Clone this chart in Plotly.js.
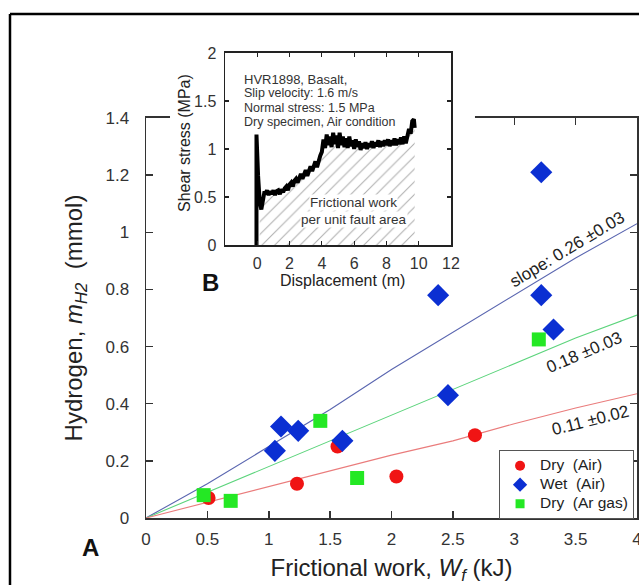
<!DOCTYPE html>
<html><head><meta charset="utf-8">
<script src="https://cdn.plot.ly/plotly-3.0.1.min.js"></script>
<style>html,body{margin:0;padding:0;background:#fff}#chart{width:639px;height:585px}</style>
</head><body><div id="chart"></div>
<script>
// ---------- Panel A: hydrogen vs frictional work ----------
const seriesNames = ['Dry\u00a0 (Air)', 'Wet\u00a0 (Air)', 'Dry\u00a0 (Ar gas)'];
const dryAirW = [0.51, 1.23, 1.56, 2.04, 2.68];
const dryAirH = [0.07, 0.12, 0.25, 0.145, 0.29];
const wetAirW = [1.05, 1.10, 1.24, 1.60, 2.38, 2.46, 3.22, 3.22, 3.32];
const wetAirH = [0.235, 0.32, 0.305, 0.27, 0.78, 0.43, 1.21, 0.78, 0.66];
const dryArW = [0.47, 0.69, 1.42, 1.72, 3.20];
const dryArH = [0.08, 0.06, 0.34, 0.14, 0.625];
// fitted lines
const fitW = [0, 0.5, 1, 1.5, 2, 2.5, 3, 3.5, 4];
const fitWetH = [0, 0.12, 0.25, 0.38, 0.52, 0.65, 0.78, 0.91, 1.03];
const fitDryArH = [0, 0.09, 0.18, 0.27, 0.36, 0.45, 0.54, 0.63, 0.71];
const fitDryAirH = [0, 0.055, 0.11, 0.165, 0.22, 0.27, 0.33, 0.385, 0.435];
const slopeLabels = ['slope: 0.26 \u00b10.03', '0.18 \u00b10.03', '0.11 \u00b10.02'];

// ---------- Panel B: shear stress vs displacement ----------
const dispM = [-0.05, -0.05, 0.05, 0.15, 0.25, 0.35, 0.45,
  0.5,0.6,0.7,0.8,0.9,1.0,1.1,1.2,1.3,1.4,1.5,1.6,1.7,1.8,1.9,2.0,2.1,2.2,2.3,2.4,2.5,2.6,2.7,2.8,2.9,
  3.0,3.1,3.2,3.3,3.4,3.5,3.6,3.7,3.8,3.9,4.0,4.1,4.2,4.3,4.4,4.5,4.6,4.7,4.8,4.9,5.0,5.1,5.2,5.3,5.4,
  5.5,5.6,5.7,5.8,5.9,6.0,6.1,6.2,6.3,6.4,6.5,6.6,6.7,6.8,6.9,7.0,7.1,7.2,7.3,7.4,7.5,7.6,7.7,7.8,7.9,
  8.0,8.1,8.2,8.3,8.4,8.5,8.6,8.7,8.8,8.9,9.0,9.1,9.2,9.3,9.4,9.5,9.6,9.7, 9.75];
const shearMPa = [0, 1.15, 0.72, 0.45, 0.37, 0.50, 0.56,
  0.53,0.57,0.52,0.56,0.53,0.57,0.52,0.56,0.57,0.53,0.58,0.55,0.59,0.61,0.57,0.63,0.65,0.61,0.67,0.69,0.65,0.71,0.74,0.69,0.75,
  0.78,0.72,0.79,0.82,0.77,0.84,0.87,0.81,0.89,0.93,0.97,1.10,1.01,1.15,1.04,1.13,1.02,1.17,1.05,1.14,1.01,1.17,1.04,1.13,1.02,
  1.11,1.01,1.13,1.03,1.09,1.00,1.10,1.02,1.08,0.99,1.06,1.01,1.07,1.00,1.06,1.02,1.08,1.01,1.07,1.03,1.09,1.02,1.08,1.03,1.09,
  1.04,1.10,1.03,1.09,1.04,1.11,1.04,1.10,1.05,1.12,1.05,1.13,1.06,1.14,1.21,1.16,1.29,1.31, 1.22];
const insetInfo = ['HVR1898, Basalt,', 'Slip velocity: 1.6 m/s', 'Normal stress: 1.5 MPa', 'Dry specimen, Air condition'];
const areaLabel = ['Frictional work', 'per unit fault area'];

const FONT = 'Liberation Sans, Arial, Helvetica, sans-serif';
const cRed = '#f01414', cBlue = '#0b2fd2', cGreen = '#24e824';

const traces = [
  {x: fitW, y: fitWetH, mode: 'lines', line: {color: '#5a66b0', width: 1.1}, showlegend: false, hoverinfo: 'skip'},
  {x: fitW, y: fitDryArH, mode: 'lines', line: {color: '#5cd47c', width: 1.1}, showlegend: false, hoverinfo: 'skip'},
  {x: fitW, y: fitDryAirH, mode: 'lines', line: {color: '#ea7c7c', width: 1.1}, showlegend: false, hoverinfo: 'skip'},
  {x: dryAirW, y: dryAirH, mode: 'markers', marker: {symbol: 'circle', size: 14, color: cRed}, showlegend: false},
  {x: wetAirW, y: wetAirH, mode: 'markers', marker: {symbol: 'diamond', size: 17, color: cBlue}, showlegend: false},
  {x: dryArW, y: dryArH, mode: 'markers', marker: {symbol: 'square', size: 14, color: cGreen}, showlegend: false},
  // legend entries
  {x: [null], y: [null], mode: 'markers', name: '<span style="font-size:15.5px">' + seriesNames[0] + '</span>', marker: {symbol: 'circle', size: 10, color: cRed}},
  {x: [null], y: [null], mode: 'markers', name: '<span style="font-size:15.5px">' + seriesNames[1] + '</span>', marker: {symbol: 'diamond', size: 11, color: cBlue}},
  {x: [null], y: [null], mode: 'markers', name: '<span style="font-size:15.5px">' + seriesNames[2] + '</span>', marker: {symbol: 'square', size: 9, color: cGreen}},
  // white backing panel for inset
  {x: [null], y: [null], xaxis: 'x2', yaxis: 'y2', mode: 'markers', showlegend: false, hoverinfo: 'skip'},
  // inset hatch
  {x: dispM.slice(3), y: shearMPa.slice(3), xaxis: 'x3', yaxis: 'y3', mode: 'lines', line: {width: 0},
   fill: 'tozeroy', fillcolor: 'rgba(0,0,0,0)',
   fillpattern: {shape: '/', fgcolor: '#b0b0b0', bgcolor: 'rgba(255,255,255,0)', size: 9, solidity: 0.12},
   showlegend: false, hoverinfo: 'skip'},
  // inset curve
  {x: dispM, y: shearMPa, xaxis: 'x3', yaxis: 'y3', mode: 'lines', line: {color: '#000', width: 4}, showlegend: false}
];

const axBase = {showgrid: false, zeroline: false, showline: true, mirror: 'ticks', ticks: 'inside'};

const annotations = [
  {xref: 'x', yref: 'y', x: 3.43, y: 0.94, text: slopeLabels[0], textangle: -31, showarrow: false, font: {size: 17, color: '#222'}},
  {xref: 'x', yref: 'y', x: 3.57, y: 0.58, text: slopeLabels[1], textangle: -23, showarrow: false, font: {size: 17, color: '#222'}},
  {xref: 'x', yref: 'y', x: 3.62, y: 0.34, text: slopeLabels[2], textangle: -14, showarrow: false, font: {size: 17, color: '#222'}},
  {xref: 'paper', yref: 'paper', x: -0.134, y: -0.092, text: '<b>A</b>', showarrow: false, font: {size: 24, color: '#111'}},
  {xref: 'paper', yref: 'paper', x: 0.11, y: 0.4816, text: '<b>B</b>', showarrow: false, font: {size: 24, color: '#111'}},
  {xref: 'paper', yref: 'paper', x: 0.1955, y: 0.918, xanchor: 'left', text: insetInfo[0], showarrow: false, font: {size: 13, color: '#333'}},
  {xref: 'paper', yref: 'paper', x: 0.1955, y: 0.8893, xanchor: 'left', text: insetInfo[1], showarrow: false, font: {size: 12.5, color: '#333'}},
  {xref: 'paper', yref: 'paper', x: 0.1955, y: 0.8586, xanchor: 'left', text: insetInfo[2], showarrow: false, font: {size: 12.5, color: '#333'}},
  {xref: 'paper', yref: 'paper', x: 0.1955, y: 0.8299, xanchor: 'left', text: insetInfo[3], showarrow: false, font: {size: 12.5, color: '#333'}},
  {xref: 'paper', yref: 'paper', x: 0.4236, y: 0.6455, text: areaLabel[0], showarrow: false, bgcolor: 'white', borderpad: 0, font: {size: 13.5, color: '#333'}},
  {xref: 'paper', yref: 'paper', x: 0.4236, y: 0.6107, text: areaLabel[1], showarrow: false, bgcolor: 'white', borderpad: 0, font: {size: 13.5, color: '#333'}},
  // inset axis titles
  {xref: 'paper', yref: 'paper', x: 0.077, y: 0.768, xanchor: 'center', yanchor: 'middle', text: 'Shear stress (MPa)', textangle: -90, showarrow: false, font: {size: 16, color: '#222'}},
  {xref: 'paper', yref: 'paper', x: 0.4012, y: 0.4877, text: 'Displacement (m)', showarrow: false, font: {size: 16, color: '#222'}}
];

const layout = {
  width: 639, height: 585,
  margin: {l: 146, r: 2, t: 30, b: 67},
  paper_bgcolor: 'white', plot_bgcolor: 'white',
  font: {family: FONT, color: '#222'},
  showlegend: true,
  legend: {x: 0.994, xanchor: 'right', y: 0.139, yanchor: 'top', bordercolor: '#555', borderwidth: 1,
           bgcolor: 'white', font: {size: 12, color: '#222'}, tracegroupgap: 0},
  xaxis: Object.assign({}, axBase, {domain: [0, 1], anchor: 'y', range: [0, 4], tick0: 0, dtick: 0.5,
    ticklen: 7, tickwidth: 1.5, tickcolor: '#333', linecolor: '#333', linewidth: 1.5,
    tickfont: {size: 17, color: '#333'}, ticklabelstandoff: 5, ticklabeloverflow: 'allow',
    title: {text: 'Frictional work, <i>W<sub>f</sub></i> (kJ)', font: {size: 24, color: '#222'}, standoff: 12}}),
  yaxis: Object.assign({}, axBase, {domain: [0, 0.8197], anchor: 'x', range: [0, 1.4], tick0: 0, dtick: 0.2,
    ticklen: 7, tickwidth: 1.5, tickcolor: '#333', linecolor: '#333', linewidth: 1.5,
    tickfont: {size: 17, color: '#333'}, ticklabelstandoff: 12, ticklabeloverflow: 'allow',
    title: {text: 'Hydrogen, <i>m<sub>H2</sub></i>  (mmol)', font: {size: 24, color: '#222'}, standoff: 16}}),
  xaxis2: {domain: [0.0489, 0.670], anchor: 'y2', range: [0, 1], visible: false},
  yaxis2: {domain: [0.4877, 0.9795], anchor: 'x2', range: [0, 1], visible: false},
  xaxis3: Object.assign({}, axBase, {domain: [0.1609, 0.6212], anchor: 'y3', range: [-2, 12],
    tickvals: [0, 2, 4, 6, 8, 10, 12], ticklen: 4, tickwidth: 1.2, tickcolor: '#222', linecolor: '#222', linewidth: 1.5,
    tickfont: {size: 16, color: '#333'}, ticklabelstandoff: 3, ticklabeloverflow: 'allow'}),
  yaxis3: Object.assign({}, axBase, {domain: [0.5594, 0.9529], anchor: 'x3', range: [0, 2], tick0: 0, dtick: 0.5,
    ticklen: 4, tickwidth: 1.2, tickcolor: '#222', linecolor: '#222', linewidth: 1.5,
    tickfont: {size: 16, color: '#333'}, ticklabelstandoff: 4, ticklabeloverflow: 'allow'}),
  shapes: [
    {type: 'line', xref: 'paper', yref: 'paper', x0: -0.277, x1: -0.277, y0: -0.2, y1: 1.0328, line: {color: '#000', width: 2.5}},
    {type: 'line', xref: 'paper', yref: 'paper', x0: -0.277, x1: 1.02, y0: 1.0328, y1: 1.0328, line: {color: '#000', width: 2.5}}
  ],
  annotations: annotations
};

Plotly.newPlot('chart', traces, layout, {displayModeBar: false, staticPlot: true});
</script>
</body></html>
